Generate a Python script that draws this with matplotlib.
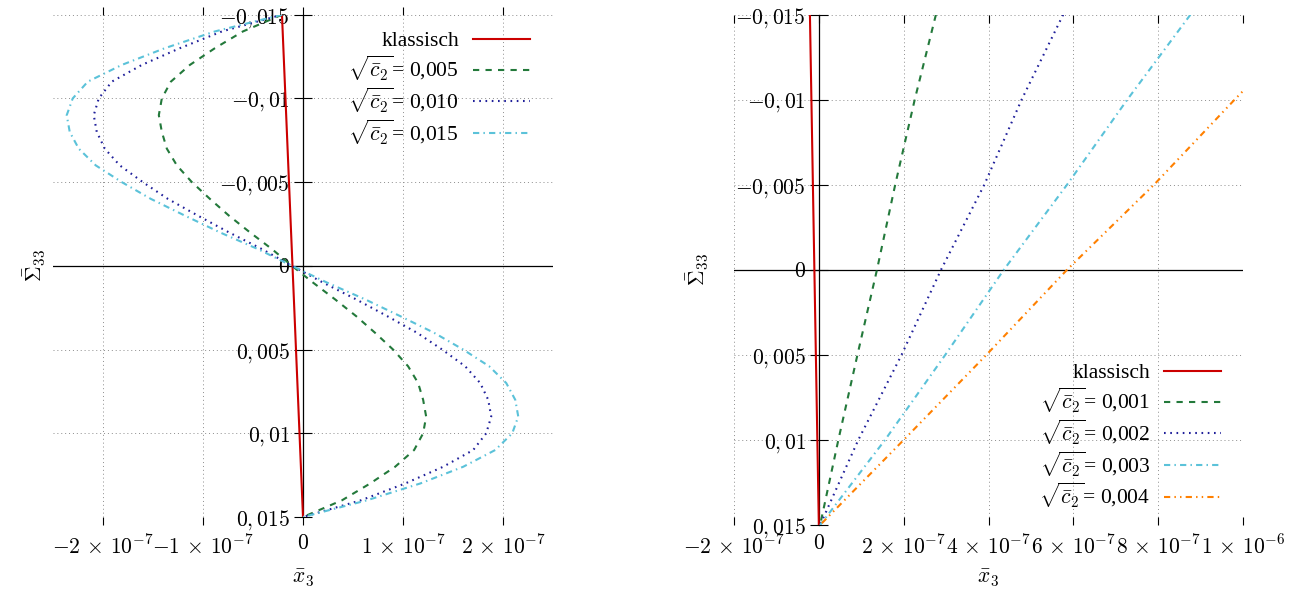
import numpy as np
import matplotlib
matplotlib.use("Agg")
import matplotlib.pyplot as plt

plt.rcParams["font.family"] = "serif"
plt.rcParams["font.serif"] = ["Liberation Serif", "DejaVu Serif"]
plt.rcParams["mathtext.fontset"] = "cm"

# left chart: Sigma_33 stations (1e-3) and x3 values (1e-7)
sig_left = np.array([-15, -14, -13, -12, -11, -10, -9, -8, -7, -6, -5, -4, -3, -2, -1,
                     0, 1, 2, 3, 4, 5, 6, 7, 8, 9, 10, 11, 12, 13, 14, 15]) * 1e-3
sig_klass_left = np.array([-15, 0, 15]) * 1e-3
x_klass_left = np.array([-0.21, -0.105, 0.0]) * 1e-7
x_c005 = np.array([-0.21, -0.60, -0.88, -1.13, -1.32, -1.41, -1.44, -1.41, -1.36, -1.26,
                   -1.11, -0.93, -0.74, -0.53, -0.31, -0.11, 0.10, 0.32, 0.53, 0.72,
                   0.90, 1.05, 1.15, 1.20, 1.23, 1.20, 1.11, 0.92, 0.67, 0.39, 0.0]) * 1e-7
x_c010 = np.array([-0.21, -0.81, -1.23, -1.61, -1.91, -2.04, -2.09, -2.06, -1.98, -1.83,
                   -1.60, -1.35, -1.05, -0.74, -0.41, -0.11, 0.20, 0.53, 0.84, 1.14,
                   1.39, 1.62, 1.77, 1.85, 1.88, 1.83, 1.70, 1.40, 1.02, 0.58, 0.0]) * 1e-7
x_c015 = np.array([-0.21, -0.88, -1.38, -1.81, -2.15, -2.30, -2.36, -2.33, -2.24, -2.07,
                   -1.81, -1.52, -1.18, -0.83, -0.45, -0.11, 0.24, 0.62, 0.97, 1.31,
                   1.60, 1.86, 2.03, 2.12, 2.15, 2.09, 1.92, 1.60, 1.17, 0.64, 0.0]) * 1e-7
labels_left = ["klassisch", r"$\sqrt{\bar{c}_2}$= 0,005",
               r"$\sqrt{\bar{c}_2}$= 0,010", r"$\sqrt{\bar{c}_2}$= 0,015"]

# right chart
sig_right = np.array([-15, -10, -5, 0, 5, 10, 15]) * 1e-3
x_klass_right = np.array([-0.21, -0.175, -0.14, -0.105, -0.07, -0.035, 0.0]) * 1e-7
x_c001 = np.array([2.76, 2.26, 1.80, 1.37, 0.91, 0.46, 0.03]) * 1e-7
x_c002 = np.array([5.76, 4.78, 3.90, 2.88, 1.95, 0.93, 0.03]) * 1e-7
x_c003 = np.array([8.76, 7.27, 5.85, 4.36, 2.98, 1.56, 0.03]) * 1e-7
x_c004 = np.array([11.75, 9.80, 7.90, 5.85, 3.95, 2.00, 0.03]) * 1e-7
labels_right = ["klassisch", r"$\sqrt{\bar{c}_2}$= 0,001", r"$\sqrt{\bar{c}_2}$= 0,002",
                r"$\sqrt{\bar{c}_2}$= 0,003", r"$\sqrt{\bar{c}_2}$= 0,004"]

yticks = [-0.015, -0.01, -0.005, 0, 0.005, 0.01, 0.015]
ytick_labels = [r"$-0,015$", r"$-0,01$", r"$-0,005$", r"$0$", r"$0,005$", r"$0,01$", r"$0,015$"]
xticks_left = [-2e-7, -1e-7, 0, 1e-7, 2e-7]
xtick_labels_left = [r"$-2\,\times\,10^{-7}$", r"$-1\,\times\,10^{-7}$", r"$0$",
                     r"$1\,\times\,10^{-7}$", r"$2\,\times\,10^{-7}$"]
xticks_right = [-2e-7, 0, 2e-7, 4e-7, 6e-7, 8e-7, 1e-6]
xtick_labels_right = [r"$-2\,\times\,10^{-7}$", r"$0$", r"$2\,\times\,10^{-7}$",
                      r"$4\,\times\,10^{-7}$", r"$6\,\times\,10^{-7}$",
                      r"$8\,\times\,10^{-7}$", r"$1\,\times\,10^{-6}$"]

RED = "#cc0000"
GREEN = "#23793b"
BLUE = "#1f1f9a"
CYAN = "#5bc2d9"
ORANGE = "#ff8000"
LW = 1.5
FS = 15.5

DASHED = (0, (3.0, 3.0))
DOTTED = (0, (0.8, 2.2))
DASHDOT = (0, (3.0, 2.0, 0.7, 2.0))
DASHDOTDOT = (0, (3.0, 2.0, 0.7, 2.0, 0.7, 2.0))


def style_axes(ax, xticks, xlabels, xdir, xlim):
    for s in ax.spines.values():
        s.set_visible(False)
    ax.spines["left"].set_visible(True)
    ax.spines["left"].set_position(("data", 0))
    ax.spines["left"].set_linewidth(0.9)
    ax.axhline(0, color="black", lw=0.9, zorder=1.5)
    ax.set_xlim(*xlim)
    ax.set_ylim(0.015, -0.015)
    ax.set_xticks(xticks)
    ax.set_xticklabels(xlabels)
    ax.set_yticks(yticks)
    ax.set_yticklabels(ytick_labels)
    ax.tick_params(axis="x", direction=xdir, top=True, bottom=True,
                   length=6, width=0.8, pad=7, labelsize=FS)
    ax.tick_params(axis="y", direction="inout", length=13, width=0.8,
                   pad=2.9, labelsize=FS)
    ax.set_axisbelow(True)
    ax.grid(True, linestyle=(0, (1, 3)), color="#8c8c8c", lw=0.7)


fig = plt.figure(figsize=(13.09, 5.97), dpi=100)
ax1 = fig.add_axes([52.7 / 1309, 80 / 597, 500.6 / 1309, 502.3 / 597])
ax2 = fig.add_axes([734 / 1309, 72 / 597, 509 / 1309, 510.3 / 597])

style_axes(ax1, xticks_left, xtick_labels_left, "out", (-2.5e-7, 2.5e-7))
style_axes(ax2, xticks_right, xtick_labels_right, "in", (-2e-7, 1e-6))

ax1.plot(x_klass_left, sig_klass_left, color=RED, lw=LW, zorder=3, label=labels_left[0])
ax1.plot(x_c005, sig_left, color=GREEN, lw=LW, ls=DASHED, zorder=3, label=labels_left[1])
ax1.plot(x_c010, sig_left, color=BLUE, lw=LW, ls=DOTTED, zorder=3, label=labels_left[2])
ax1.plot(x_c015, sig_left, color=CYAN, lw=LW, ls=DASHDOT, zorder=3, label=labels_left[3])

ax2.plot(x_klass_right, sig_right, color=RED, lw=LW, zorder=3, label=labels_right[0])
ax2.plot(x_c001, sig_right, color=GREEN, lw=LW, ls=DASHED, zorder=3, label=labels_right[1])
ax2.plot(x_c002, sig_right, color=BLUE, lw=LW, ls=DOTTED, zorder=3, label=labels_right[2])
ax2.plot(x_c003, sig_right, color=CYAN, lw=LW, ls=DASHDOT, zorder=3, label=labels_right[3])
ax2.plot(x_c004, sig_right, color=ORANGE, lw=LW, ls=DASHDOTDOT, zorder=3, label=labels_right[4])

for ax, anchor in [(ax1, (0.9535, 0.9675)), (ax2, (0.957, 0.3175))]:
    ax.legend(loc="upper right", bbox_to_anchor=anchor, frameon=False, markerfirst=False,
              fontsize=FS, handlelength=2.65, handletextpad=0.65, labelspacing=0.12,
              borderpad=0, borderaxespad=0)

ax1.text(0.5, -0.1214, r"$\bar{x}_3$", transform=ax1.transAxes, ha="center", va="center", fontsize=FS)
ax1.text(-0.0354, 0.5, r"$\bar{\Sigma}_{33}$", transform=ax1.transAxes, ha="center", va="center",
         rotation=90, fontsize=FS)
ax2.text(0.5, -0.1039, r"$\bar{x}_3$", transform=ax2.transAxes, ha="center", va="center", fontsize=FS)
ax2.text(-0.0717, 0.5, r"$\bar{\Sigma}_{33}$", transform=ax2.transAxes, ha="center", va="center",
         rotation=90, fontsize=FS)

fig.savefig("out.png", dpi=100)
